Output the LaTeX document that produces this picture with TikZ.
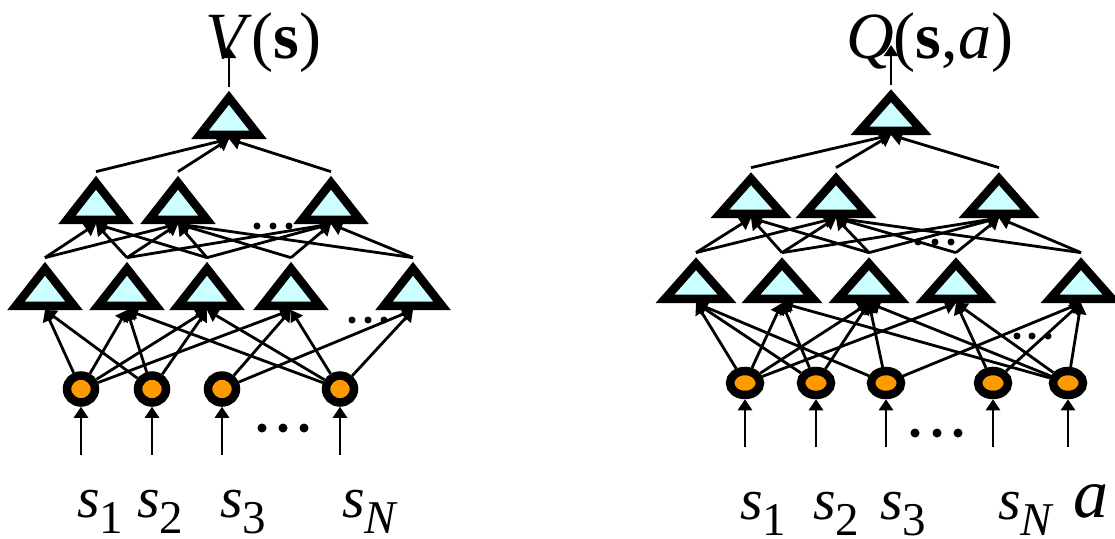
\documentclass[tikz,border=0pt]{standalone}
\usepackage{fontspec}
\setmainfont{Liberation Serif}
\usetikzlibrary{arrows.meta,shapes.geometric}
\definecolor{unitcyan}{HTML}{CCFFFF}
\definecolor{inorange}{HTML}{FF9900}
\newcommand{\svar}[1]{\textit{s}\raisebox{-16pt}{\fontsize{47}{47}\selectfont #1}}

\begin{document}
\begin{tikzpicture}[x=1pt, y=-1pt,
    unit/.style={isosceles triangle, isosceles triangle stretches, shape border rotate=90,
        minimum width=58pt, minimum height=37pt, inner sep=0pt, draw, line width=8.5pt,
        fill=unitcyan, anchor=lower side},
    inp/.style={ellipse, draw, line width=8.5pt, fill=inorange, minimum width=28pt,
        minimum height=27pt, inner sep=0pt},
    arr/.style={line width=2.8pt, -{Triangle[length=11pt,width=14pt]}},
    lab/.style={font=\fontsize{58}{60}\selectfont, anchor=base west, inner sep=0pt},
    ttl/.style={font=\fontsize{66}{70}\selectfont, anchor=base west, inner sep=0pt}]
    \useasboundingbox (0,0) rectangle (1115,538);

    % left network, V(s)
    \foreach \x [count=\i] in {81,152,222,340}
        \node[inp] (li\i) at (\x,389) {};
    \foreach \x [count=\i] in {45,127,207,291,413}
        \node[unit] (la\i) at (\x,310) {};
    \foreach \x [count=\i] in {96,178,331}
        \node[unit] (lb\i) at (\x,224) {};
    \node[unit] (lout) at (229,139) {};
    \coordinate (lv) at (229,47);

    \foreach \s/\t in {1/1,1/2,1/3,1/4,2/1,2/2,2/3,3/4,3/5,4/2,4/3,4/4,4/5}
        \draw[arr] (li\s) -- (la\t.lower side);
    \foreach \s/\t in {1/1,2/1,3/1,1/2,2/2,3/2,4/2,5/2,2/3,3/3,4/3,5/3}
        \draw[arr] (la\s.apex) -- (lb\t.lower side);
    \foreach \s in {1,2,3}
        \draw[arr] (lb\s.apex) -- (lout.lower side);
    \draw[arr] (lout.apex) -- (lv);
    \foreach \i in {1,...,4}
        \draw[arr] ([yshift=-48pt]li\i.south) -- (li\i.south);

    \foreach \x in {257,273,289} \fill (\x,226) circle (3.5pt);
    \foreach \x in {352,368,384} \fill (\x,320) circle (3.5pt);
    \foreach \x in {262,283,304} \fill (\x,428) circle (4.5pt);

    \node[ttl] (vlab) at (205,58) {\textit{V}(\textbf{s})};
    \node[lab] (ls1) at (77,517) {\svar{1}};
    \node[lab] (ls2) at (137,517) {\svar{2}};
    \node[lab] (ls3) at (220,517) {\svar{3}};
    \node[lab] (lsn) at (342,517) {\svar{\textit{N}}};

    % right network, Q(s,a)
    \begin{scope}[unit/.append style={minimum width=62pt, minimum height=35pt},
        inp/.append style={minimum width=30pt, minimum height=24pt}]
    \foreach \x [count=\i] in {745,816,886,993,1068}
        \node[inp] (ri\i) at (\x,383) {};
    \foreach \x [count=\i] in {696,782,869,956,1081}
        \node[unit] (ra\i) at (\x,303) {};
    \foreach \x [count=\i] in {751,836,999}
        \node[unit] (rb\i) at (\x,218) {};
    \node[unit] (rout) at (891,135) {};
    \coordinate (rq) at (891,45);
    \end{scope}

    \foreach \s/\t in {1/1,1/2,1/3,1/4,2/1,2/2,2/3,3/1,3/3,3/5,4/4,4/5,5/2,5/3,5/4,5/5}
        \draw[arr] (ri\s) -- (ra\t.lower side);
    \foreach \s/\t in {1/1,2/1,3/1,1/2,2/2,3/2,4/2,5/2,2/3,3/3,4/3,5/3}
        \draw[arr] (ra\s.apex) -- (rb\t.lower side);
    \foreach \s in {1,2,3}
        \draw[arr] (rb\s.apex) -- (rout.lower side);
    \draw[arr] (rout.apex) -- (rq);
    \foreach \i in {1,...,5}
        \draw[arr] ([yshift=-48pt]ri\i.south) -- (ri\i.south);

    \foreach \x in {918,935,951} \fill (\x,242) circle (3.5pt);
    \foreach \x in {1017,1032,1048} \fill (\x,336) circle (3.5pt);
    \foreach \x in {915,937,958} \fill (\x,433) circle (4.5pt);

    \node[ttl] (qlab) at (846,58) {\textit{Q}(\textbf{s},\textit{a})};
    \node[lab] (rs1) at (740,519) {\svar{1}};
    \node[lab] (rs2) at (813,519) {\svar{2}};
    \node[lab] (rs3) at (880,519) {\svar{3}};
    \node[lab] (rsn) at (998,519) {\svar{\textit{N}}};
    \node[lab, font=\fontsize{70}{72}\selectfont] (ra) at (1073,517) {\textit{a}};
\end{tikzpicture}
\end{document}
